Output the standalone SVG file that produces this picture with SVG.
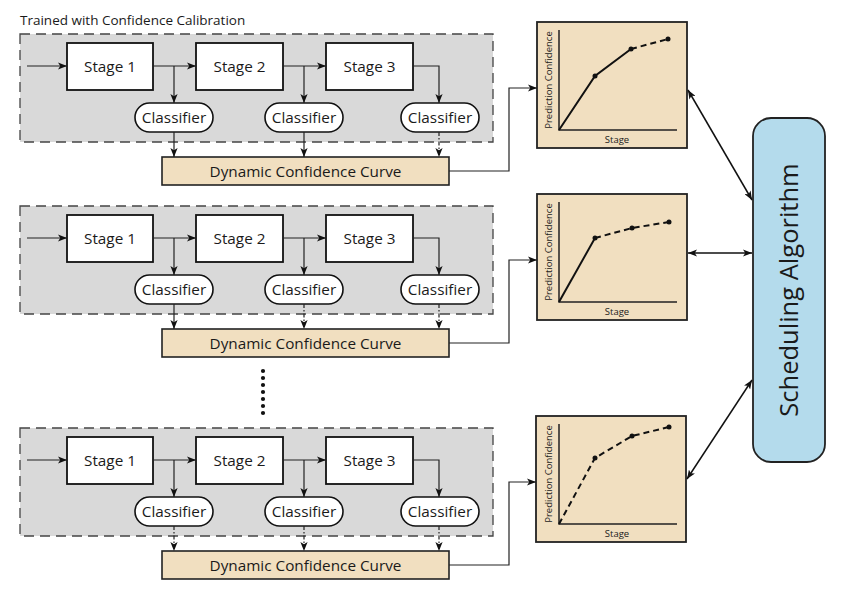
<svg xmlns="http://www.w3.org/2000/svg" width="843" height="594" viewBox="0 0 843 594">
<defs>
<marker id="ah" viewBox="0 0 10 8" refX="10" refY="4" markerWidth="9" markerHeight="7.2" markerUnits="userSpaceOnUse" orient="auto-start-reverse">
<path d="M0,0 L10,4 L0,8 L2.5,4 z" fill="#111"/>
</marker>
<style>
text{font-family:"Open Sans","Noto Sans","Liberation Sans",sans-serif;fill:#1a1a1a}
.region{fill:#d9d9d9;stroke:#444;stroke-width:1.3;stroke-dasharray:10,6}
.stage{fill:#fff;stroke:#111;stroke-width:1.8}
.cls{fill:#fff;stroke:#111;stroke-width:1.6}
.dcc{fill:#f1dfc0;stroke:#222;stroke-width:1.6}
.chart{fill:#f1dfc0;stroke:#222;stroke-width:1.8}
.axis{fill:none;stroke:#222;stroke-width:1.5}
.curve{fill:none;stroke:#111;stroke-width:2}
.dashc{fill:none;stroke:#111;stroke-width:2;stroke-dasharray:6,4}
.lbl{font-size:15.3px;text-anchor:middle}
.dl{font-size:15.3px;text-anchor:middle}
.small{font-size:9.5px;text-anchor:middle}
.ca{fill:none;stroke:#222;stroke-width:1.2;marker-end:url(#ah)}
.cd{fill:none;stroke:#222;stroke-width:1.2;stroke-dasharray:4,2,1.5,2;marker-end:url(#ah)}
.cb{fill:none;stroke:#111;stroke-width:1.5;marker-start:url(#ah);marker-end:url(#ah)}
.sched{fill:#b4dbec;stroke:#222;stroke-width:1.8}
</style>
</defs>
<rect width="843" height="594" fill="#fff"/>
<text id="title" x="20" y="25" style="font-size:13.5px">Trained with Confidence Calibration</text>

<g id="block1">
<rect id="region1" class="region" x="20" y="34" width="473" height="108"/>
<g id="b1-stage1"><rect class="stage" x="67" y="43" width="86" height="47"/><text class="lbl" x="110" y="71.5">Stage 1</text></g>
<g id="b1-stage2"><rect class="stage" x="196" y="43" width="87" height="47"/><text class="lbl" x="239.5" y="71.5">Stage 2</text></g>
<g id="b1-stage3"><rect class="stage" x="326" y="43" width="87" height="47"/><text class="lbl" x="369.5" y="71.5">Stage 3</text></g>
<g id="b1-cls1"><rect class="cls" x="135" y="103" width="78" height="29" rx="14.5"/><text class="lbl" x="174" y="123">Classifier</text></g>
<g id="b1-cls2"><rect class="cls" x="265" y="103" width="78" height="29" rx="14.5"/><text class="lbl" x="304" y="123">Classifier</text></g>
<g id="b1-cls3"><rect class="cls" x="401" y="103" width="78" height="29" rx="14.5"/><text class="lbl" x="440" y="123">Classifier</text></g>
<g id="b1-dcc"><rect class="dcc" x="162" y="157" width="287" height="28"/><text class="dl" x="305.5" y="176.5">Dynamic Confidence Curve</text></g>
</g>

<g id="block2" transform="translate(0,172)">
<rect id="region2" class="region" x="20" y="34" width="473" height="108"/>
<g id="b2-stage1"><rect class="stage" x="67" y="43" width="86" height="47"/><text class="lbl" x="110" y="71.5">Stage 1</text></g>
<g id="b2-stage2"><rect class="stage" x="196" y="43" width="87" height="47"/><text class="lbl" x="239.5" y="71.5">Stage 2</text></g>
<g id="b2-stage3"><rect class="stage" x="326" y="43" width="87" height="47"/><text class="lbl" x="369.5" y="71.5">Stage 3</text></g>
<g id="b2-cls1"><rect class="cls" x="135" y="103" width="78" height="29" rx="14.5"/><text class="lbl" x="174" y="123">Classifier</text></g>
<g id="b2-cls2"><rect class="cls" x="265" y="103" width="78" height="29" rx="14.5"/><text class="lbl" x="304" y="123">Classifier</text></g>
<g id="b2-cls3"><rect class="cls" x="401" y="103" width="78" height="29" rx="14.5"/><text class="lbl" x="440" y="123">Classifier</text></g>
<g id="b2-dcc"><rect class="dcc" x="162" y="157" width="287" height="28"/><text class="dl" x="305.5" y="176.5">Dynamic Confidence Curve</text></g>
</g>

<g id="block3" transform="translate(0,394)">
<rect id="region3" class="region" x="20" y="34" width="473" height="108"/>
<g id="b3-stage1"><rect class="stage" x="67" y="43" width="86" height="47"/><text class="lbl" x="110" y="71.5">Stage 1</text></g>
<g id="b3-stage2"><rect class="stage" x="196" y="43" width="87" height="47"/><text class="lbl" x="239.5" y="71.5">Stage 2</text></g>
<g id="b3-stage3"><rect class="stage" x="326" y="43" width="87" height="47"/><text class="lbl" x="369.5" y="71.5">Stage 3</text></g>
<g id="b3-cls1"><rect class="cls" x="135" y="103" width="78" height="29" rx="14.5"/><text class="lbl" x="174" y="123">Classifier</text></g>
<g id="b3-cls2"><rect class="cls" x="265" y="103" width="78" height="29" rx="14.5"/><text class="lbl" x="304" y="123">Classifier</text></g>
<g id="b3-cls3"><rect class="cls" x="401" y="103" width="78" height="29" rx="14.5"/><text class="lbl" x="440" y="123">Classifier</text></g>
<g id="b3-dcc"><rect class="dcc" x="162" y="157" width="287" height="28"/><text class="dl" x="305.5" y="176.5">Dynamic Confidence Curve</text></g>
</g>

<g id="ellipsis" fill="#111">
<circle cx="263" cy="371" r="2.1"/><circle cx="263" cy="378" r="2.1"/><circle cx="263" cy="385" r="2.1"/><circle cx="263" cy="392" r="2.1"/><circle cx="263" cy="399" r="2.1"/><circle cx="263" cy="406" r="2.1"/><circle cx="263" cy="413" r="2.1"/>
</g>

<g id="chart1">
<rect class="chart" x="537" y="22" width="150" height="126"/>
<path class="axis" d="M559,30 V130 H677"/>
<text class="small" x="617" y="143">Stage</text>
<text class="small" transform="translate(552,80) rotate(-90)">Prediction Confidence</text>
<path class="curve" d="M559,130 L595,76 L631,49"/>
<path class="dashc" d="M631,49 L668,39"/>
<g fill="#111"><circle cx="595" cy="76" r="2.5"/><circle cx="631" cy="49" r="2.5"/><circle cx="668" cy="39" r="2.5"/></g>
</g>

<g id="chart2" transform="translate(0,172)">
<rect class="chart" x="537" y="22" width="150" height="126"/>
<path class="axis" d="M559,30 V130 H677"/>
<text class="small" x="617" y="143">Stage</text>
<text class="small" transform="translate(552,80) rotate(-90)">Prediction Confidence</text>
<path class="curve" d="M559,130 L595,66"/>
<path class="dashc" d="M595,66 L632,56 L669,50"/>
<g fill="#111"><circle cx="595" cy="66" r="2.5"/><circle cx="632" cy="56" r="2.5"/><circle cx="669" cy="50" r="2.5"/></g>
</g>

<g id="chart3" transform="translate(0,394)">
<rect class="chart" x="536" y="22" width="150" height="126"/>
<path class="axis" d="M559,30 V130 H677"/>
<text class="small" x="617" y="143">Stage</text>
<text class="small" transform="translate(552,80) rotate(-90)">Prediction Confidence</text>
<path class="dashc" d="M559,130 L595,64 L632,42 L669,33"/>
<g fill="#111"><circle cx="595" cy="64" r="2.5"/><circle cx="632" cy="42" r="2.5"/><circle cx="669" cy="33" r="2.5"/></g>
</g>

<g id="scheduling">
<rect class="sched" x="753" y="118" width="72" height="344" rx="18"/>
<text transform="translate(798,290) rotate(-90)" style="font-size:25.5px;text-anchor:middle">Scheduling Algorithm</text>
</g>

<g id="connectors">
<g id="conn-b1">
<path class="ca" d="M27,66 H67"/>
<path class="ca" d="M153,66 H196"/>
<path class="ca" d="M283,66 H326"/>
<path class="ca" d="M174,66 V103"/>
<path class="ca" d="M304,66 V103"/>
<path class="ca" d="M413,66 H439 V103"/>
<path class="ca" d="M174,132 V157"/>
<path class="ca" d="M304,132 V157"/>
<path class="cd" d="M439,132 V157"/>
<path class="ca" d="M449,171 H509 V88 H537"/>
</g>
<g id="conn-b2" transform="translate(0,172)">
<path class="ca" d="M27,66 H67"/>
<path class="ca" d="M153,66 H196"/>
<path class="ca" d="M283,66 H326"/>
<path class="ca" d="M174,66 V103"/>
<path class="ca" d="M304,66 V103"/>
<path class="ca" d="M413,66 H439 V103"/>
<path class="ca" d="M174,132 V157"/>
<path class="cd" d="M304,132 V157"/>
<path class="cd" d="M439,132 V157"/>
<path class="ca" d="M449,171 H509 V88 H537"/>
</g>
<g id="conn-b3" transform="translate(0,394)">
<path class="ca" d="M27,66 H67"/>
<path class="ca" d="M153,66 H196"/>
<path class="ca" d="M283,66 H326"/>
<path class="ca" d="M174,66 V103"/>
<path class="ca" d="M304,66 V103"/>
<path class="ca" d="M413,66 H439 V103"/>
<path class="cd" d="M174,132 V157"/>
<path class="cd" d="M304,132 V157"/>
<path class="cd" d="M439,132 V157"/>
<path class="ca" d="M449,171 H509 V88 H536"/>
</g>
<path class="cb" d="M688,90 L752,200"/>
<path class="cb" d="M688,253 L752,253"/>
<path class="cb" d="M687,479 L752,380"/>
</g>
</svg>
